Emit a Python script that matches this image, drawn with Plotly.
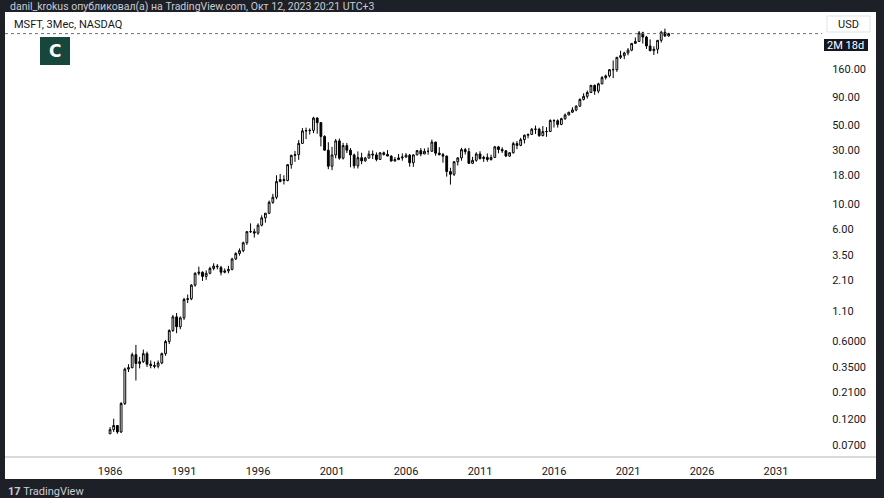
import numpy as np
import pandas as pd
import plotly.graph_objects as go

# MSFT quarterly (3M) candles, 1986 Q1 .. 2023 Q4 (split-adjusted USD)
opens = [0.0885, 0.0964, 0.1050, 0.0920,
         0.165, 0.335, 0.345, 0.450,
         0.375, 0.390, 0.460, 0.370,
         0.360, 0.355, 0.380, 0.460,
         0.590, 0.740, 0.980, 0.800,
         0.960, 1.400, 1.420, 1.880,
         2.400, 2.450, 2.250, 2.400,
         2.650, 2.780, 2.700, 2.450,
         2.520, 2.600, 3.220, 3.600,
         3.820, 4.500, 5.650, 5.650,
         5.480, 6.450, 7.500, 8.250,
         10.33, 11.46, 15.80, 16.50,
         16.16, 22.38, 27.10, 27.50,
         34.67, 44.81, 45.09, 45.28,
         58.37, 53.12, 40.00, 30.16,
         21.69, 27.34, 36.50, 25.58,
         33.13, 30.15, 27.35, 21.87,
         25.85, 24.21, 25.64, 27.80,
         27.37, 24.93, 28.56, 27.65,
         26.72, 24.17, 24.84, 25.73,
         26.15, 27.21, 23.30, 27.35,
         29.86, 27.87, 29.47, 29.46,
         35.60, 28.38, 27.51, 26.69,
         19.44, 18.37, 23.77, 25.72,
         30.48, 29.29, 23.01, 24.49,
         27.91, 25.39, 26.00, 24.89,
         25.96, 32.26, 30.59, 29.76,
         26.71, 28.61, 34.55, 33.28,
         37.41, 40.99, 41.70, 46.36,
         46.45, 40.66, 44.15, 44.26,
         55.48, 55.23, 51.17, 57.60,
         62.14, 65.86, 68.93, 74.49,
         85.54, 91.27, 98.61, 114.37,
         101.57, 117.94, 133.96, 139.03,
         157.70, 157.71, 203.51, 210.33,
         222.42, 235.77, 270.90, 281.92,
         336.32, 308.31, 256.83, 232.90,
         239.82, 288.30, 340.54, 315.75]

highs = [0.1016, 0.1207, 0.1060, 0.1700,
         0.345, 0.370, 0.470, 0.550,
         0.430, 0.500, 0.480, 0.400,
         0.390, 0.400, 0.470, 0.610,
         0.760, 1.020, 1.060, 0.990,
         1.450, 1.550, 1.920, 2.450,
         2.750, 2.500, 2.550, 2.750,
         2.950, 2.900, 2.800, 2.650,
         2.800, 3.300, 3.700, 4.000,
         4.600, 5.700, 6.700, 6.000,
         6.700, 7.900, 8.300, 10.70,
         12.30, 18.00, 18.50, 18.00,
         22.70, 27.50, 29.70, 37.10,
         47.50, 47.90, 47.20, 59.97,
         59.30, 53.60, 41.00, 35.50,
         32.30, 38.00, 38.30, 35.10,
         35.00, 31.50, 28.10, 29.40,
         28.60, 26.30, 29.90, 30.00,
         28.80, 28.90, 29.30, 30.20,
         27.10, 26.20, 27.90, 28.20,
         28.40, 27.90, 27.70, 30.30,
         31.50, 31.20, 31.80, 37.50,
         35.90, 32.10, 28.50, 27.00,
         21.00, 24.00, 26.00, 31.60,
         31.60, 31.60, 26.30, 28.90,
         29.50, 26.90, 28.20, 27.50,
         32.95, 32.90, 32.00, 30.20,
         28.80, 35.80, 36.40, 38.90,
         41.60, 42.30, 47.60, 50.00,
         47.90, 49.50, 48.40, 56.90,
         56.90, 56.80, 58.70, 64.10,
         66.20, 72.90, 75.97, 87.50,
         97.24, 102.70, 115.30, 116.18,
         120.80, 138.40, 142.37, 159.55,
         190.70, 204.40, 232.86, 228.12,
         246.13, 271.65, 305.84, 349.67,
         344.30, 315.95, 294.18, 255.33,
         289.27, 351.47, 366.78, 336.88]

lows = [0.0885, 0.0920, 0.0885, 0.0900,
        0.160, 0.315, 0.340, 0.265,
        0.340, 0.380, 0.350, 0.340,
        0.340, 0.340, 0.370, 0.440,
        0.560, 0.720, 0.700, 0.760,
        0.920, 1.300, 1.380, 1.820,
        2.300, 2.050, 2.100, 2.350,
        2.550, 2.600, 2.300, 2.400,
        2.400, 2.550, 3.150, 3.450,
        3.700, 4.300, 5.500, 5.000,
        5.300, 6.300, 6.800, 8.100,
        10.00, 11.00, 15.60, 14.90,
        15.90, 20.60, 23.70, 24.70,
        34.50, 37.90, 41.60, 42.80,
        42.30, 32.60, 30.00, 20.40,
        20.00, 25.50, 24.80, 24.90,
        28.40, 21.20, 20.70, 20.70,
        22.60, 23.80, 25.40, 25.10,
        24.00, 24.90, 27.00, 26.70,
        23.80, 23.80, 24.60, 24.30,
        26.00, 21.50, 21.40, 27.20,
        26.60, 27.80, 27.50, 29.30,
        26.90, 27.10, 23.30, 17.50,
        14.87, 17.70, 22.00, 24.30,
        27.60, 22.70, 22.70, 23.80,
        24.90, 23.70, 23.80, 24.30,
        25.90, 28.30, 28.50, 26.26,
        26.30, 28.10, 30.80, 32.70,
        34.60, 38.50, 41.40, 42.10,
        39.70, 40.10, 39.70, 43.70,
        48.00, 48.00, 50.40, 56.30,
        61.90, 64.80, 67.10, 73.70,
        83.80, 87.10, 97.80, 93.96,
        97.20, 116.80, 128.80, 134.50,
        132.52, 150.80, 196.25, 196.00,
        211.94, 230.35, 269.00, 280.25,
        270.00, 241.51, 232.73, 213.43,
        219.35, 275.37, 309.45, 311.55]

closes = [0.0964, 0.1050, 0.0920, 0.1650,
          0.335, 0.345, 0.450, 0.375,
          0.390, 0.460, 0.370, 0.360,
          0.355, 0.380, 0.460, 0.590,
          0.740, 0.980, 0.800, 0.960,
          1.400, 1.420, 1.880, 2.400,
          2.450, 2.250, 2.400, 2.650,
          2.780, 2.750, 2.450, 2.520,
          2.600, 3.220, 3.600, 3.820,
          4.500, 5.650, 5.650, 5.480,
          6.450, 7.500, 8.250, 10.33,
          11.46, 15.80, 16.50, 16.16,
          22.38, 27.10, 27.50, 34.67,
          44.81, 45.09, 45.28, 58.37,
          53.12, 40.00, 30.16, 21.69,
          27.34, 36.50, 25.58, 33.13,
          30.15, 27.35, 21.87, 25.85,
          24.21, 25.64, 27.80, 27.37,
          24.93, 28.56, 27.65, 26.72,
          24.17, 24.84, 25.73, 26.15,
          27.21, 23.30, 27.35, 29.86,
          27.87, 29.47, 29.46, 35.60,
          28.38, 27.51, 26.69, 19.44,
          18.37, 23.77, 25.72, 30.48,
          29.29, 23.01, 24.49, 27.91,
          25.39, 26.00, 24.89, 25.96,
          32.26, 30.59, 29.76, 26.71,
          28.61, 34.55, 33.28, 37.41,
          40.99, 41.70, 46.36, 46.45,
          40.66, 44.15, 44.26, 55.48,
          55.23, 51.17, 57.60, 62.14,
          65.86, 68.93, 74.49, 85.54,
          91.27, 98.61, 114.37, 101.57,
          117.94, 133.96, 139.03, 157.70,
          157.71, 203.51, 210.33, 222.42,
          235.77, 270.90, 281.92, 336.32,
          308.31, 256.83, 232.90, 239.82,
          288.30, 340.54, 315.75, 331.16]

quarters = pd.date_range("1986-01-01", periods=len(closes), freq="QS")

year_ticks = [1986, 1991, 1996, 2001, 2006, 2011, 2016, 2021, 2026, 2031]
price_ticks = [0.07, 0.12, 0.21, 0.35, 0.6, 1.1, 2.1, 3.5, 6, 10, 18, 30, 50, 90, 160]
price_labels = ["0.0700", "0.1200", "0.2100", "0.3500", "0.6000", "1.10", "2.10",
                "3.50", "6.00", "10.00", "18.00", "30.00", "50.00", "90.00", "160.00"]

FONT = "Roboto, 'Liberation Sans', Arial, sans-serif"
FRAME = "#1e2027"
INK = "#131722"

fig = go.Figure(go.Candlestick(
    x=quarters, open=opens, high=highs, low=lows, close=closes,
    increasing=dict(fillcolor="#ffffff", line=dict(color="#000000", width=1)),
    decreasing=dict(fillcolor="#000000", line=dict(color="#000000", width=1)),
    whiskerwidth=0, hoverinfo="skip", showlegend=False,
))

W, H = 884, 498
L, R, T, B = 5, 62, 12, 41
pw, ph = W - L - R, H - T - B


def px(xp):
    return (xp - L) / pw


def py(yp):
    return (H - B - yp) / ph


shapes = [
    # white chart panel
    dict(type="rect", xref="paper", yref="paper", x0=0, x1=px(876), y0=py(479), y1=1,
         fillcolor="#ffffff", line=dict(width=0), layer="below"),
    # time axis separator
    dict(type="line", xref="paper", yref="paper", x0=0, x1=px(876), y0=0, y1=0,
         line=dict(color="#b2b5be", width=1)),
    # last price dotted line
    dict(type="line", xref="paper", yref="y", x0=0, x1=1,
         y0=closes[-1], y1=closes[-1],
         line=dict(color="#6a6e78", width=1, dash="dot")),
    # logo badge
    dict(type="rect", xref="paper", yref="paper", x0=px(40), x1=px(70), y0=py(65), y1=py(37),
         fillcolor="#17463d", line=dict(width=0)),
    # USD box
    dict(type="rect", xref="paper", yref="paper", x0=px(827), x1=px(870), y0=py(32), y1=py(16),
         fillcolor="#ffffff", line=dict(color="#e0e3eb", width=1)),
    # countdown box
    dict(type="rect", xref="paper", yref="paper", x0=px(824), x1=px(868), y0=py(51), y1=py(39),
         fillcolor="#131722", line=dict(width=0)),
]

annotations = [
    dict(text="danil_krokus опубликовал(а) на TradingView.com, Окт 12, 2023 20:21 UTC+3",
         x=px(8), y=py(6), xref="paper", yref="paper", xanchor="left", yanchor="middle",
         showarrow=False, font=dict(family=FONT, size=10.5, color="#c9ccd3")),
    dict(text="MSFT, 3Мес, NASDAQ", x=px(12), y=py(24), xref="paper", yref="paper",
         xanchor="left", yanchor="middle", showarrow=False,
         font=dict(family=FONT, size=11, color=INK)),
    dict(text="<b>C</b>", x=px(55), y=py(51), xref="paper", yref="paper",
         xanchor="center", yanchor="middle", showarrow=False,
         font=dict(family="DejaVu Sans", size=17, color="#ffffff")),
    dict(text="USD", x=px(848), y=py(24), xref="paper", yref="paper",
         xanchor="center", yanchor="middle", showarrow=False,
         font=dict(family=FONT, size=11, color=INK)),
    dict(text="2M 18d", x=px(846), y=py(45), xref="paper", yref="paper",
         xanchor="center", yanchor="middle", showarrow=False,
         font=dict(family=FONT, size=11, color="#ffffff")),
    dict(text="<b>17</b> TradingView", x=px(6), y=py(491), xref="paper", yref="paper",
         xanchor="left", yanchor="middle", showarrow=False,
         font=dict(family=FONT, size=11, color="#c9ccd3")),
]

fig.update_layout(
    width=W, height=H,
    margin=dict(l=L, r=R, t=T, b=B, pad=0),
    paper_bgcolor=FRAME, plot_bgcolor="#ffffff",
    showlegend=False, hovermode=False,
    shapes=shapes, annotations=annotations,
    xaxis=dict(
        type="date", range=["1978-11-26", "2034-02-10"],
        rangeslider=dict(visible=False),
        tickvals=[pd.Timestamp(f"{y}-01-01") for y in year_ticks],
        ticktext=[str(y) for y in year_ticks],
        ticks="outside", ticklen=4, tickcolor="rgba(0,0,0,0)",
        tickfont=dict(family=FONT, size=11, color=INK),
        showgrid=False, zeroline=False, showline=False, fixedrange=True,
    ),
    yaxis=dict(
        type="log", side="right", range=[-1.260, 2.713],
        tickvals=price_ticks, ticktext=price_labels,
        ticks="outside", ticklen=7, tickcolor="rgba(0,0,0,0)",
        tickfont=dict(family=FONT, size=11, color=INK),
        showgrid=False, zeroline=False, showline=False, fixedrange=True,
    ),
)

fig.write_html(
    "out.html",
    config={"displayModeBar": False, "staticPlot": True},
    post_script="document.body.style.margin='0';document.body.style.overflow='hidden';"
                "document.body.style.background='" + FRAME + "';",
)
